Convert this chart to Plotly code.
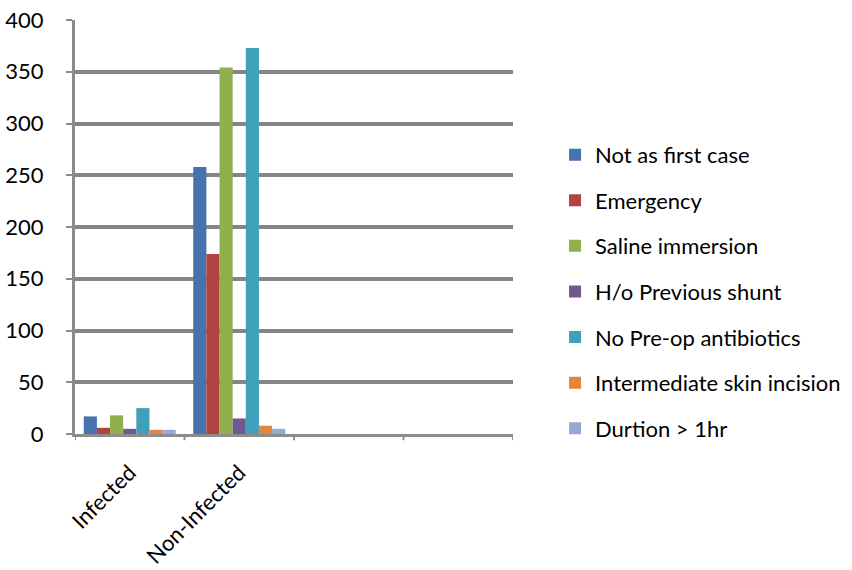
import plotly.graph_objects as go

categories = ["Infected", "Non-Infected"]
series_names = ["Not as first case", "Emergency", "Saline immersion", "H/o Previous shunt",
                "No Pre-op antibiotics", "Intermediate skin incision", "Durtion > 1hr"]
infected = [17, 6, 18, 5, 25, 4, 4]
non_infected = [258, 174, 354, 15, 373, 8, 5]
colors = ["#4672AE", "#B04441", "#8FB04D", "#71588F", "#41A0B9", "#E6843C", "#92AAD6"]

x_slots = [0, 1]
fig = go.Figure()
for i, name in enumerate(series_names):
    fig.add_trace(go.Bar(
        x=x_slots, y=[infected[i], non_infected[i]], name=name,
        marker=dict(color=colors[i], line=dict(width=0)),
        legendgroup=f"g{i}",
    ))

font = "Lato, Carlito, 'Liberation Sans', sans-serif"
shapes = []
for b in [-0.5, 0.5, 1.5, 2.5, 3.5]:
    shapes.append(dict(type="line", xref="x", yref="paper", x0=b, x1=b, y0=0, y1=-0.015,
                       line=dict(color="#8C8C8C", width=2)))

fig.update_layout(
    width=852, height=570,
    margin=dict(l=75, r=339, t=20, b=136, autoexpand=False),
    paper_bgcolor="white", plot_bgcolor="white",
    barmode="group", bargap=0.16, bargroupgap=0,
    font=dict(family=font, size=22, color="black"),
    xaxis=dict(range=[-0.5, 3.5], tickvals=x_slots, ticktext=categories, tickangle=-45,
               showgrid=False, showline=True, linecolor="#8C8C8C", linewidth=3,
               ticks="", zeroline=False, tickfont=dict(size=22), ticklabelstandoff=14,
               automargin=False),
    yaxis=dict(range=[0, 400], dtick=50, showgrid=True, gridcolor="#858585", gridwidth=3.5,
               showline=True, linecolor="#8C8C8C", linewidth=3, ticks="outside",
               ticklen=6, tickcolor="#8C8C8C", tickwidth=2, zeroline=False,
               ticklabelstandoff=18, tickfont=dict(size=22), automargin=False),
    legend=dict(x=1.096, xanchor="left", y=0.725, yanchor="top", traceorder="grouped",
                tracegroupgap=14, font=dict(size=22), itemwidth=30),
    shapes=shapes,
)
fig.write_html("out.html")
